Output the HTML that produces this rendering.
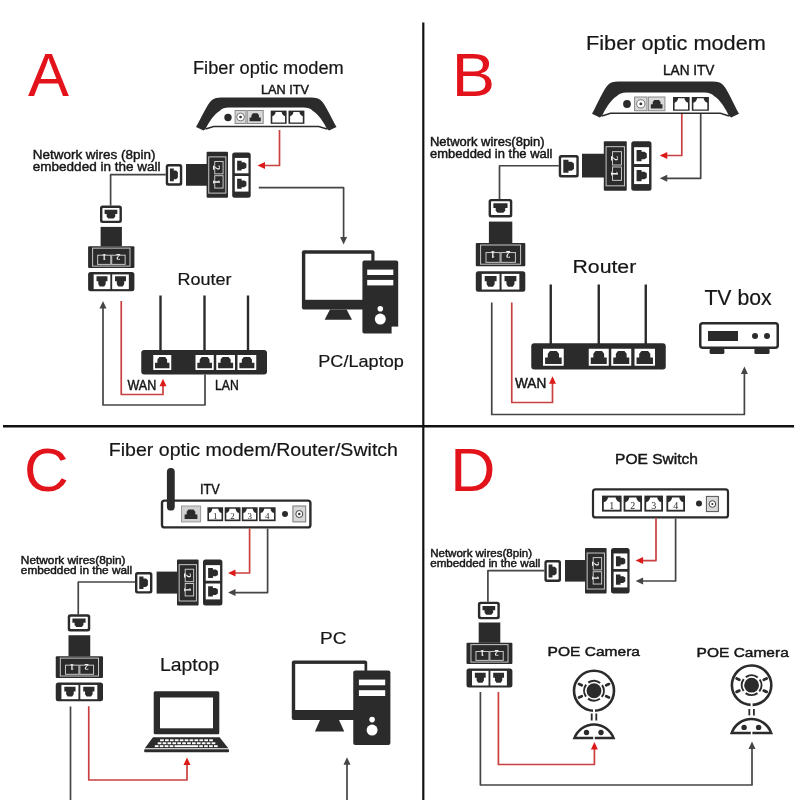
<!DOCTYPE html>
<html><head><meta charset="utf-8"><style>
html,body{margin:0;padding:0;background:#fff;width:800px;height:800px;overflow:hidden}
svg{display:block;will-change:transform;filter:blur(0.3px);font-family:"Liberation Sans",sans-serif}
</style></head><body>
<svg width="800" height="800" viewBox="0 0 800 800" font-family="Liberation Sans, sans-serif">
<rect width="800" height="800" fill="#fff"/>
<polyline points="423.3,22.5 423.3,800" fill="none" stroke="#111" stroke-width="2.2" stroke-linejoin="round"/>
<polyline points="3,426.25 794,426.25" fill="none" stroke="#111" stroke-width="2.4" stroke-linejoin="round"/>
<text x="28" y="96.25" font-size="61.68" fill="#e3131b" font-weight="normal" textLength="41" lengthAdjust="spacingAndGlyphs">A</text>
<text x="193" y="74.25" font-size="17.78" fill="#161616" font-weight="normal" textLength="150.75" lengthAdjust="spacingAndGlyphs" stroke="#161616" stroke-width="0.2">Fiber optic modem</text>
<text x="261" y="94" font-size="13.06" fill="#161616" font-weight="normal" textLength="48" lengthAdjust="spacingAndGlyphs" stroke="#161616" stroke-width="0.45">LAN ITV</text>
<path d="M196,127 C201.62,117.3 207.24,104.1 211.46,100.47 Q214.26,97.5 221.29,97.5 L311.21,97.5 Q318.24,97.5 321.05,100.47 C325.26,104.1 330.88,117.3 336.5,127 L329.05,130.5 L326.95,129.01 C323.86,122.25 318.24,114 312.62,110.7 Q309.81,107.5 303.48,107.5 L229.02,107.5 Q222.69,107.5 219.88,110.7 C214.26,114 208.65,122.25 205.55,129.01 L203.45,130.5 Z" fill="#2b2b2b"/>
<path d="M205.55,129.01 L213.7,126.54 L318.8,126.54 L326.95,129.01" fill="none" stroke="#2b2b2b" stroke-width="1.4"/>
<circle cx="228" cy="117.5" r="3.7" fill="#2b2b2b"/>
<rect x="235.1" y="110.5" width="10.9" height="13" fill="#d8d8d8" stroke="#8a8a8a" stroke-width="1"/>
<circle cx="240.55" cy="117" r="3.9" fill="#fff" stroke="#777" stroke-width="1"/>
<circle cx="240.55" cy="117" r="1.36" fill="#333"/>
<rect x="247.2" y="110.5" width="16" height="13" fill="#d8d8d8" stroke="#8a8a8a" stroke-width="1"/>
<polygon points="249.6,121.34 260.8,121.34 260.8,117.46 258.98,117.46 258.98,115.15 257.44,113.36 252.96,113.36 251.42,115.15 251.42,117.46 249.6,117.46" fill="#2b2b2b"/>
<rect x="270.7" y="110.6" width="15.9" height="13.2" fill="#2b2b2b"/>
<polygon points="272.3,122.5 285,122.5 285,116.14 283.22,115.29 281.95,113.38 281.7,111.9 275.6,111.9 275.35,113.38 274.08,115.29 272.3,116.14" fill="#fff"/>
<rect x="288.5" y="110.6" width="15.9" height="13.2" fill="#2b2b2b"/>
<polygon points="290.1,122.5 302.8,122.5 302.8,116.14 301.02,115.29 299.75,113.38 299.5,111.9 293.4,111.9 293.15,113.38 291.88,115.29 290.1,116.14" fill="#fff"/>
<text x="32.75" y="158.75" font-size="13.5" fill="#161616" font-weight="normal" textLength="122.65" lengthAdjust="spacingAndGlyphs" stroke="#161616" stroke-width="0.45">Network wires (8pin)</text>
<text x="32.75" y="170.6" font-size="13.5" fill="#161616" font-weight="normal" textLength="127.85" lengthAdjust="spacingAndGlyphs" stroke="#161616" stroke-width="0.45">embedded in the wall</text>
<polyline points="165.75,174.7 110.6,174.7 110.6,205.6" fill="none" stroke="#454545" stroke-width="1.7" stroke-linejoin="round"/>
<rect x="165.75" y="164" width="16.5" height="21.75" rx="2.5" fill="#2b2b2b"/>
<rect x="168.15" y="166.4" width="11.7" height="16.95" rx="0.8" fill="#fff"/>
<polygon points="169.91,168.57 169.91,181.18 173.79,181.18 173.79,179.13 176.1,179.13 177.88,177.4 177.88,172.35 176.1,170.62 173.79,170.62 173.79,168.57" fill="#2b2b2b"/>
<rect x="186" y="164" width="21" height="21.75" fill="#2b2b2b"/>
<rect x="206.6" y="151.85" width="21.4" height="45.85" rx="1" fill="#2b2b2b"/>
<rect x="208.74" y="156.89" width="17.12" height="36.22" fill="none" stroke="#c8c8c8" stroke-width="1"/>
<rect x="214.73" y="161.48" width="8.35" height="12.38" fill="none" stroke="#c8c8c8" stroke-width="1"/>
<text x="0" y="0" font-size="9.63" fill="#f2f2f2" font-weight="bold" text-anchor="middle" transform="translate(216.44,167.67) rotate(90)" dy="0.35em" font-family="Liberation Serif, serif">2</text>
<rect x="214.73" y="175.69" width="8.35" height="12.38" fill="none" stroke="#c8c8c8" stroke-width="1"/>
<text x="0" y="0" font-size="9.63" fill="#f2f2f2" font-weight="bold" text-anchor="middle" transform="translate(216.44,181.88) rotate(90)" dy="0.35em" font-family="Liberation Serif, serif">1</text>
<rect x="232.2" y="152.5" width="18.5" height="45.2" rx="2.5" fill="#2b2b2b"/>
<rect x="234.79" y="157.92" width="13.69" height="15.37" fill="#fff"/>
<polygon points="237.13,160.66 237.13,170.56 241.64,170.56 241.64,168.95 244.32,168.95 246.4,167.59 246.4,163.63 244.32,162.27 241.64,162.27 241.64,160.66" fill="#2b2b2b"/>
<rect x="234.79" y="176" width="13.69" height="15.59" fill="#fff"/>
<polygon points="237.13,178.76 237.13,188.84 241.64,188.84 241.64,187.2 244.32,187.2 246.4,185.82 246.4,181.79 244.32,180.4 241.64,180.4 241.64,178.76" fill="#2b2b2b"/>
<polyline points="279.5,130 279.5,165.5 263,165.5" fill="none" stroke="#c94040" stroke-width="1.7" stroke-linejoin="round"/>
<polygon points="257.5,165.5 265,162 265,169" fill="#dd1a1a"/>
<polyline points="258.75,187.7 343.6,187.7 343.6,238" fill="none" stroke="#454545" stroke-width="1.7" stroke-linejoin="round"/>
<polygon points="343.6,244.5 340.1,237 347.1,237" fill="#454545"/>
<rect x="100" y="205.6" width="21.9" height="17.5" rx="2.5" fill="#2b2b2b"/>
<rect x="102.4" y="208" width="17.1" height="12.7" rx="0.8" fill="#fff"/>
<polygon points="104.59,209.86 117.31,209.86 117.31,214.12 115.24,214.12 115.24,216.65 113.49,218.6 108.41,218.6 106.66,216.65 106.66,214.12 104.59,214.12" fill="#2b2b2b"/>
<rect x="100.6" y="226.9" width="21.3" height="19.35" fill="#2b2b2b"/>
<rect x="88.1" y="246.25" width="46.3" height="21.85" rx="1" fill="#2b2b2b"/>
<rect x="92.59" y="248.13" width="37.41" height="18" fill="none" stroke="#c8c8c8" stroke-width="1"/>
<rect x="97.64" y="255.21" width="13.15" height="9.18" fill="none" stroke="#c8c8c8" stroke-width="1"/>
<text x="0" y="0" font-size="8.74" fill="#f0f0f0" font-weight="bold" text-anchor="middle" transform="translate(104.21,257.18) rotate(180)" dy="0.35em" font-family="Liberation Serif, serif">1</text>
<rect x="111.71" y="255.21" width="13.43" height="9.18" fill="none" stroke="#c8c8c8" stroke-width="1"/>
<text x="0" y="0" font-size="8.74" fill="#f0f0f0" font-weight="bold" text-anchor="middle" transform="translate(118.43,257.18) rotate(180)" dy="0.35em" font-family="Liberation Serif, serif">2</text>
<rect x="88.1" y="271.9" width="46.3" height="19.35" rx="2.5" fill="#2b2b2b"/>
<rect x="93.66" y="274.42" width="16.67" height="14.71" fill="#fff"/>
<polygon points="96.52,276.37 107.46,276.37 107.46,281.25 105.68,281.25 105.68,284.16 104.18,286.4 99.8,286.4 98.3,284.16 98.3,281.25 96.52,281.25" fill="#2b2b2b"/>
<rect x="112.18" y="274.42" width="16.67" height="14.71" fill="#fff"/>
<polygon points="115.04,276.37 125.98,276.37 125.98,281.25 124.2,281.25 124.2,284.16 122.7,286.4 118.32,286.4 116.82,284.16 116.82,281.25 115.04,281.25" fill="#2b2b2b"/>
<rect x="301.9" y="250.3" width="72.6" height="59.2" rx="2" fill="#2b2b2b"/>
<rect x="305.3" y="253.75" width="66" height="46.05" fill="#fff"/>
<polygon points="330,309.5 346.6,309.5 352,319.8 324.6,319.8" fill="#2b2b2b"/>
<rect x="362.4" y="260.6" width="35.8" height="72.9" rx="2" fill="#2b2b2b"/>
<rect x="367.2" y="269.6" width="26.1" height="5.4" fill="#fff"/>
<rect x="367.2" y="279.9" width="26.1" height="5.5" fill="#fff"/>
<circle cx="380.3" cy="308.8" r="2.8" fill="#fff"/>
<circle cx="380.3" cy="319.1" r="5.5" fill="#fff"/>
<rect x="391.6" y="326.6" width="8.4" height="8.4" fill="#fff"/>
<text x="177.4" y="285" font-size="17.42" fill="#161616" font-weight="normal" textLength="54" lengthAdjust="spacingAndGlyphs" stroke="#161616" stroke-width="0.2">Router</text>
<text x="318.3" y="367.2" font-size="16.98" fill="#161616" font-weight="normal" textLength="85.5" lengthAdjust="spacingAndGlyphs" stroke="#161616" stroke-width="0.2">PC/Laptop</text>
<polyline points="160.5,295.5 160.5,351" fill="none" stroke="#2b2b2b" stroke-width="2.4" stroke-linejoin="round"/>
<polyline points="204.5,295.5 204.5,351" fill="none" stroke="#2b2b2b" stroke-width="2.4" stroke-linejoin="round"/>
<polyline points="248,295.5 248,351" fill="none" stroke="#2b2b2b" stroke-width="2.4" stroke-linejoin="round"/>
<rect x="141.25" y="350" width="125.75" height="24.5" rx="3" fill="#2b2b2b"/>
<rect x="153.25" y="355" width="18" height="15" fill="#fff"/>
<polygon points="155.05,368.35 169.45,368.35 169.45,362.8 167.11,362.8 167.11,359.5 165.13,356.95 159.37,356.95 157.39,359.5 157.39,362.8 155.05,362.8" fill="#2b2b2b"/>
<rect x="195.5" y="355" width="18.25" height="15" fill="#fff"/>
<polygon points="197.32,368.35 211.93,368.35 211.93,362.8 209.55,362.8 209.55,359.5 207.54,356.95 201.71,356.95 199.7,359.5 199.7,362.8 197.32,362.8" fill="#2b2b2b"/>
<rect x="216.25" y="355" width="18.75" height="15" fill="#fff"/>
<polygon points="218.12,368.35 233.12,368.35 233.12,362.8 230.69,362.8 230.69,359.5 228.62,356.95 222.62,356.95 220.56,359.5 220.56,362.8 218.12,362.8" fill="#2b2b2b"/>
<rect x="237.5" y="355" width="18.75" height="15" fill="#fff"/>
<polygon points="239.38,368.35 254.38,368.35 254.38,362.8 251.94,362.8 251.94,359.5 249.88,356.95 243.88,356.95 241.81,359.5 241.81,362.8 239.38,362.8" fill="#2b2b2b"/>
<polyline points="103,307 103,405 205,405 205,374.5" fill="none" stroke="#454545" stroke-width="1.7" stroke-linejoin="round"/>
<polygon points="103,301 99.5,308.5 106.5,308.5" fill="#454545"/>
<polyline points="121.25,301 121.25,394.5 163,394.5 163,385" fill="none" stroke="#c94040" stroke-width="1.7" stroke-linejoin="round"/>
<polygon points="163,378.75 159.5,386.25 166.5,386.25" fill="#dd1a1a"/>
<text x="127.5" y="390" font-size="14.51" fill="#161616" font-weight="normal" textLength="28.75" lengthAdjust="spacingAndGlyphs" stroke="#161616" stroke-width="0.45">WAN</text>
<text x="215" y="390" font-size="14.51" fill="#161616" font-weight="normal" textLength="23.75" lengthAdjust="spacingAndGlyphs" stroke="#161616" stroke-width="0.45">LAN</text>
<text x="451.7" y="96.25" font-size="61.68" fill="#e3131b" font-weight="normal" textLength="43.4" lengthAdjust="spacingAndGlyphs">B</text>
<text x="586" y="49.7" font-size="19.88" fill="#161616" font-weight="normal" textLength="179.8" lengthAdjust="spacingAndGlyphs" stroke="#161616" stroke-width="0.2">Fiber optic modem</text>
<text x="663" y="74.5" font-size="14.51" fill="#161616" font-weight="normal" textLength="51.4" lengthAdjust="spacingAndGlyphs" stroke="#161616" stroke-width="0.45">LAN ITV</text>
<path d="M592,113.77 C597.88,103.16 603.76,88.72 608.17,84.75 Q611.11,81.5 618.46,81.5 L712.54,81.5 Q719.89,81.5 722.83,84.75 C727.24,88.72 733.12,103.16 739,113.77 L731.21,117.6 L729,115.98 C725.77,108.57 719.89,99.55 714.01,95.94 Q711.07,92.44 704.46,92.44 L626.54,92.44 Q619.93,92.44 616.99,95.94 C611.11,99.55 605.23,108.57 602,115.98 L599.79,117.6 Z" fill="#2b2b2b"/>
<path d="M602,115.98 L610.52,113.27 L720.48,113.27 L729,115.98" fill="none" stroke="#2b2b2b" stroke-width="1.4"/>
<circle cx="627" cy="104" r="3.9" fill="#2b2b2b"/>
<rect x="634.6" y="97" width="12.4" height="13.75" fill="#d8d8d8" stroke="#8a8a8a" stroke-width="1"/>
<circle cx="640.8" cy="103.88" r="4.12" fill="#fff" stroke="#777" stroke-width="1"/>
<circle cx="640.8" cy="103.88" r="1.44" fill="#333"/>
<rect x="648.4" y="97" width="16.5" height="13.75" fill="#d8d8d8" stroke="#8a8a8a" stroke-width="1"/>
<polygon points="650.85,108.51 662.45,108.51 662.45,104.35 660.56,104.35 660.56,101.88 658.97,99.96 654.33,99.96 652.74,101.88 652.74,104.35 650.85,104.35" fill="#2b2b2b"/>
<rect x="673" y="97" width="16.6" height="13.75" fill="#2b2b2b"/>
<polygon points="674.6,109.45 688,109.45 688,102.76 686.12,101.87 684.78,99.86 684.52,98.3 678.08,98.3 677.82,99.86 676.48,101.87 674.6,102.76" fill="#fff"/>
<rect x="691.8" y="97" width="17.1" height="13.75" fill="#2b2b2b"/>
<polygon points="693.4,109.45 707.3,109.45 707.3,102.76 705.35,101.87 703.96,99.86 703.69,98.3 697.01,98.3 696.74,99.86 695.35,101.87 693.4,102.76" fill="#fff"/>
<text x="430" y="146.25" font-size="12.05" fill="#161616" font-weight="normal" textLength="114.5" lengthAdjust="spacingAndGlyphs" stroke="#161616" stroke-width="0.45">Network wires(8pin)</text>
<text x="430" y="157.5" font-size="12.05" fill="#161616" font-weight="normal" textLength="122.5" lengthAdjust="spacingAndGlyphs" stroke="#161616" stroke-width="0.45">embedded in the wall</text>
<polyline points="558.75,165.75 499.5,165.75 499.5,198.9" fill="none" stroke="#454545" stroke-width="1.7" stroke-linejoin="round"/>
<rect x="558.75" y="155" width="20" height="22.5" rx="2.5" fill="#2b2b2b"/>
<rect x="561.15" y="157.4" width="15.2" height="17.7" rx="0.8" fill="#fff"/>
<polygon points="563.29,159.65 563.29,172.85 568.47,172.85 568.47,170.71 571.55,170.71 573.93,168.89 573.93,163.61 571.55,161.79 568.47,161.79 568.47,159.65" fill="#2b2b2b"/>
<rect x="582" y="153.75" width="23" height="23.75" fill="#2b2b2b"/>
<rect x="603.8" y="141.25" width="22.95" height="49.5" rx="1" fill="#2b2b2b"/>
<rect x="606.09" y="146.69" width="18.36" height="39.11" fill="none" stroke="#c8c8c8" stroke-width="1"/>
<rect x="612.52" y="151.65" width="8.95" height="13.36" fill="none" stroke="#c8c8c8" stroke-width="1"/>
<text x="0" y="0" font-size="10.33" fill="#f2f2f2" font-weight="bold" text-anchor="middle" transform="translate(614.36,158.33) rotate(90)" dy="0.35em" font-family="Liberation Serif, serif">2</text>
<rect x="612.52" y="166.99" width="8.95" height="13.37" fill="none" stroke="#c8c8c8" stroke-width="1"/>
<text x="0" y="0" font-size="10.33" fill="#f2f2f2" font-weight="bold" text-anchor="middle" transform="translate(614.36,173.67) rotate(90)" dy="0.35em" font-family="Liberation Serif, serif">1</text>
<rect x="631.25" y="141.25" width="20.25" height="49.5" rx="2.5" fill="#2b2b2b"/>
<rect x="634.09" y="147.19" width="14.99" height="16.83" fill="#fff"/>
<polygon points="636.57,150.07 636.57,161.14 641.56,161.14 641.56,159.34 644.52,159.34 646.82,157.82 646.82,153.39 644.52,151.87 641.56,151.87 641.56,150.07" fill="#2b2b2b"/>
<rect x="634.09" y="166.99" width="14.99" height="17.08" fill="#fff"/>
<polygon points="636.57,169.9 636.57,181.16 641.56,181.16 641.56,179.33 644.52,179.33 646.82,177.78 646.82,173.28 644.52,171.73 641.56,171.73 641.56,169.9" fill="#2b2b2b"/>
<polyline points="681.8,114 681.8,155.5 665,155.5" fill="none" stroke="#c94040" stroke-width="1.7" stroke-linejoin="round"/>
<polygon points="659.75,155.5 667.25,152 667.25,159" fill="#dd1a1a"/>
<polyline points="700.7,114 700.7,178.3 665,178.3" fill="none" stroke="#454545" stroke-width="1.7" stroke-linejoin="round"/>
<polygon points="659.75,178.3 667.25,174.8 667.25,181.8" fill="#454545"/>
<rect x="488.6" y="198.9" width="23.7" height="18.6" rx="2.5" fill="#2b2b2b"/>
<rect x="491" y="201.3" width="18.9" height="13.8" rx="0.8" fill="#fff"/>
<polygon points="493.37,203.29 507.53,203.29 507.53,207.95 505.23,207.95 505.23,210.72 503.28,212.86 497.62,212.86 495.67,210.72 495.67,207.95 493.37,207.95" fill="#2b2b2b"/>
<rect x="488.9" y="221.6" width="23.4" height="21.4" fill="#2b2b2b"/>
<rect x="475.8" y="243" width="49.5" height="23.3" rx="1" fill="#2b2b2b"/>
<rect x="480.6" y="245" width="40" height="19.2" fill="none" stroke="#c8c8c8" stroke-width="1"/>
<rect x="486" y="252.55" width="14.06" height="9.79" fill="none" stroke="#c8c8c8" stroke-width="1"/>
<text x="0" y="0" font-size="9.32" fill="#f0f0f0" font-weight="bold" text-anchor="middle" transform="translate(493.03,254.65) rotate(180)" dy="0.35em" font-family="Liberation Serif, serif">1</text>
<rect x="501.04" y="252.55" width="14.36" height="9.79" fill="none" stroke="#c8c8c8" stroke-width="1"/>
<text x="0" y="0" font-size="9.32" fill="#f0f0f0" font-weight="bold" text-anchor="middle" transform="translate(508.22,254.65) rotate(180)" dy="0.35em" font-family="Liberation Serif, serif">2</text>
<rect x="475.8" y="271.2" width="49.5" height="20.6" rx="2.5" fill="#2b2b2b"/>
<rect x="481.74" y="273.88" width="17.82" height="15.66" fill="#fff"/>
<polygon points="484.72,275.94 496.58,275.94 496.58,281.17 494.65,281.17 494.65,284.29 493.02,286.69 488.28,286.69 486.65,284.29 486.65,281.17 484.72,281.17" fill="#2b2b2b"/>
<rect x="501.54" y="273.88" width="17.82" height="15.66" fill="#fff"/>
<polygon points="504.52,275.94 516.38,275.94 516.38,281.17 514.45,281.17 514.45,284.29 512.82,286.69 508.08,286.69 506.45,284.29 506.45,281.17 504.52,281.17" fill="#2b2b2b"/>
<text x="572.5" y="272.5" font-size="18.87" fill="#161616" font-weight="normal" textLength="63.75" lengthAdjust="spacingAndGlyphs" stroke="#161616" stroke-width="0.2">Router</text>
<polyline points="550.75,284.5 550.75,344.25" fill="none" stroke="#2b2b2b" stroke-width="2.4" stroke-linejoin="round"/>
<polyline points="598.75,284.5 598.75,344.25" fill="none" stroke="#2b2b2b" stroke-width="2.4" stroke-linejoin="round"/>
<polyline points="645.75,284.5 645.75,344.25" fill="none" stroke="#2b2b2b" stroke-width="2.4" stroke-linejoin="round"/>
<rect x="531.25" y="343.25" width="134.5" height="26.25" rx="3" fill="#2b2b2b"/>
<rect x="543" y="348.75" width="20.75" height="17" fill="#fff"/>
<polygon points="545.08,363.88 561.67,363.88 561.67,357.59 558.98,357.59 558.98,353.85 556.7,350.96 550.05,350.96 547.77,353.85 547.77,357.59 545.08,357.59" fill="#2b2b2b"/>
<rect x="588.75" y="348.75" width="20" height="17" fill="#fff"/>
<polygon points="590.75,363.88 606.75,363.88 606.75,357.59 604.15,357.59 604.15,353.85 601.95,350.96 595.55,350.96 593.35,353.85 593.35,357.59 590.75,357.59" fill="#2b2b2b"/>
<rect x="611.25" y="348.75" width="20" height="17" fill="#fff"/>
<polygon points="613.25,363.88 629.25,363.88 629.25,357.59 626.65,357.59 626.65,353.85 624.45,350.96 618.05,350.96 615.85,353.85 615.85,357.59 613.25,357.59" fill="#2b2b2b"/>
<rect x="634.5" y="348.75" width="20.5" height="17" fill="#fff"/>
<polygon points="636.55,363.88 652.95,363.88 652.95,357.59 650.28,357.59 650.28,353.85 648.03,350.96 641.47,350.96 639.22,353.85 639.22,357.59 636.55,357.59" fill="#2b2b2b"/>
<polyline points="491.75,302.5 491.75,414.5 744.4,414.5 744.4,372" fill="none" stroke="#454545" stroke-width="1.7" stroke-linejoin="round"/>
<polygon points="744.4,366.4 740.9,373.9 747.9,373.9" fill="#454545"/>
<polyline points="511.75,302.5 511.75,402.5 552.5,402.5 552.5,382" fill="none" stroke="#c94040" stroke-width="1.7" stroke-linejoin="round"/>
<polygon points="552.5,376.25 549,383.75 556,383.75" fill="#dd1a1a"/>
<text x="515" y="388.25" font-size="13.79" fill="#161616" font-weight="normal" textLength="31.25" lengthAdjust="spacingAndGlyphs" stroke="#161616" stroke-width="0.45">WAN</text>
<text x="704.4" y="304.6" font-size="21.19" fill="#161616" font-weight="normal" textLength="67.2" lengthAdjust="spacingAndGlyphs" stroke="#161616" stroke-width="0.2">TV box</text>
<rect x="700.25" y="323.25" width="77.5" height="24.5" rx="2.5" fill="#fff" stroke="#2b2b2b" stroke-width="2.5"/>
<rect x="708" y="331" width="30" height="10" fill="#2b2b2b"/>
<circle cx="755" cy="336" r="3" fill="#2b2b2b"/>
<circle cx="767" cy="336" r="3" fill="#2b2b2b"/>
<rect x="709.6" y="348.5" width="14.8" height="5.5" rx="1.5" fill="#2b2b2b"/>
<rect x="754.4" y="348.5" width="15.2" height="5.5" rx="1.5" fill="#2b2b2b"/>
<text x="24.05" y="491.1" font-size="61.68" fill="#e3131b" font-weight="normal" textLength="44.8" lengthAdjust="spacingAndGlyphs">C</text>
<text x="108.75" y="456.25" font-size="18.14" fill="#161616" font-weight="normal" textLength="289.25" lengthAdjust="spacingAndGlyphs" stroke="#161616" stroke-width="0.2">Fiber optic modem/Router/Switch</text>
<text x="200" y="494.2" font-size="13.79" fill="#161616" font-weight="normal" textLength="19.75" lengthAdjust="spacingAndGlyphs" stroke="#161616" stroke-width="0.45">ITV</text>
<rect x="162" y="500.6" width="148.4" height="26.8" rx="2.5" fill="#fff" stroke="#2b2b2b" stroke-width="2.4"/>
<rect x="166.9" y="467.9" width="7.85" height="42.7" rx="3.9" fill="#2b2b2b"/>
<rect x="181.5" y="506" width="19.1" height="15.9" fill="#d0d0d0" stroke="#999" stroke-width="1"/>
<polygon points="184.6,519.12 197.4,519.12 197.4,514.5 195.32,514.5 195.32,511.75 193.56,509.62 188.44,509.62 186.68,511.75 186.68,514.5 184.6,514.5" fill="#2b2b2b"/>
<rect x="207.4" y="507.25" width="15.7" height="13.95" fill="#2b2b2b"/>
<polygon points="209,519.5 221.5,519.5 221.5,513.02 219.75,512.16 218.5,510.21 218.25,508.7 212.25,508.7 212,510.21 210.75,512.16 209,513.02" fill="#fff"/>
<text x="215.25" y="518.8" font-size="9" fill="#2a2a2a" text-anchor="middle" font-family="Liberation Serif, serif">1</text>
<rect x="224.7" y="507.25" width="15.8" height="13.95" fill="#2b2b2b"/>
<polygon points="226.3,519.5 238.9,519.5 238.9,513.02 237.14,512.16 235.88,510.21 235.62,508.7 229.58,508.7 229.32,510.21 228.06,512.16 226.3,513.02" fill="#fff"/>
<text x="232.6" y="518.8" font-size="9" fill="#2a2a2a" text-anchor="middle" font-family="Liberation Serif, serif">2</text>
<rect x="241.8" y="507.25" width="15.8" height="13.95" fill="#2b2b2b"/>
<polygon points="243.4,519.5 256,519.5 256,513.02 254.24,512.16 252.98,510.21 252.72,508.7 246.68,508.7 246.42,510.21 245.16,512.16 243.4,513.02" fill="#fff"/>
<text x="249.7" y="518.8" font-size="9" fill="#2a2a2a" text-anchor="middle" font-family="Liberation Serif, serif">3</text>
<rect x="259.1" y="507.25" width="16.5" height="13.95" fill="#2b2b2b"/>
<polygon points="260.7,519.5 274,519.5 274,513.02 272.14,512.16 270.81,510.21 270.54,508.7 264.16,508.7 263.89,510.21 262.56,512.16 260.7,513.02" fill="#fff"/>
<text x="267.35" y="518.8" font-size="9" fill="#2a2a2a" text-anchor="middle" font-family="Liberation Serif, serif">4</text>
<circle cx="285" cy="514" r="3" fill="#2b2b2b"/>
<rect x="292.9" y="506" width="12.8" height="15.9" fill="#d8d8d8" stroke="#777" stroke-width="1"/>
<circle cx="299.3" cy="514" r="3.5" fill="#fff" stroke="#444" stroke-width="1"/>
<circle cx="299.3" cy="514" r="1.2" fill="#333"/>
<text x="20.85" y="563.6" font-size="10.89" fill="#161616" font-weight="normal" textLength="104.65" lengthAdjust="spacingAndGlyphs" stroke="#161616" stroke-width="0.45">Network wires(8pin)</text>
<text x="20.85" y="574.1" font-size="10.89" fill="#161616" font-weight="normal" textLength="111.35" lengthAdjust="spacingAndGlyphs" stroke="#161616" stroke-width="0.45">embedded in the wall</text>
<polyline points="135,582 78.25,582 78.25,614.25" fill="none" stroke="#454545" stroke-width="1.7" stroke-linejoin="round"/>
<rect x="135" y="572" width="17.4" height="21.6" rx="2.5" fill="#2b2b2b"/>
<rect x="137.4" y="574.4" width="12.6" height="16.8" rx="0.8" fill="#fff"/>
<polygon points="139.25,576.56 139.25,589.04 143.47,589.04 143.47,587.01 145.98,587.01 147.92,585.3 147.92,580.3 145.98,578.59 143.47,578.59 143.47,576.56" fill="#2b2b2b"/>
<rect x="156.6" y="571.6" width="21.4" height="22" fill="#2b2b2b"/>
<rect x="177" y="559.6" width="21.6" height="46" rx="1" fill="#2b2b2b"/>
<rect x="179.16" y="564.66" width="17.28" height="36.34" fill="none" stroke="#c8c8c8" stroke-width="1"/>
<rect x="185.21" y="569.26" width="8.42" height="12.42" fill="none" stroke="#c8c8c8" stroke-width="1"/>
<text x="0" y="0" font-size="9.72" fill="#f2f2f2" font-weight="bold" text-anchor="middle" transform="translate(186.94,575.47) rotate(90)" dy="0.35em" font-family="Liberation Serif, serif">2</text>
<rect x="185.21" y="583.52" width="8.42" height="12.42" fill="none" stroke="#c8c8c8" stroke-width="1"/>
<text x="0" y="0" font-size="9.72" fill="#f2f2f2" font-weight="bold" text-anchor="middle" transform="translate(186.94,589.73) rotate(90)" dy="0.35em" font-family="Liberation Serif, serif">1</text>
<rect x="203" y="559.6" width="19.4" height="46" rx="2.5" fill="#2b2b2b"/>
<rect x="205.72" y="565.12" width="14.36" height="15.64" fill="#fff"/>
<polygon points="208.13,567.88 208.13,578 212.89,578 212.89,576.35 215.72,576.35 217.9,574.96 217.9,570.92 215.72,569.53 212.89,569.53 212.89,567.88" fill="#2b2b2b"/>
<rect x="205.72" y="583.52" width="14.36" height="15.87" fill="#fff"/>
<polygon points="208.13,586.31 208.13,596.6 212.89,596.6 212.89,594.93 215.72,594.93 217.9,593.51 217.9,589.4 215.72,587.98 212.89,587.98 212.89,586.31" fill="#2b2b2b"/>
<polyline points="249.6,528.6 249.6,573 234,573" fill="none" stroke="#c94040" stroke-width="1.7" stroke-linejoin="round"/>
<polygon points="228,573 235.5,569.5 235.5,576.5" fill="#dd1a1a"/>
<polyline points="267.6,528.6 267.6,592.6 234,592.6" fill="none" stroke="#454545" stroke-width="1.7" stroke-linejoin="round"/>
<polygon points="228,592.6 235.5,589.1 235.5,596.1" fill="#454545"/>
<rect x="67.75" y="614.25" width="22.5" height="17.25" rx="2.5" fill="#2b2b2b"/>
<rect x="70.15" y="616.65" width="17.7" height="12.45" rx="0.8" fill="#fff"/>
<polygon points="72.4,618.49 85.6,618.49 85.6,622.65 83.45,622.65 83.45,625.12 81.64,627.04 76.36,627.04 74.55,625.12 74.55,622.65 72.4,622.65" fill="#2b2b2b"/>
<rect x="68.5" y="635.25" width="21.75" height="21" fill="#2b2b2b"/>
<rect x="55.75" y="656.25" width="47.25" height="21.75" rx="1" fill="#2b2b2b"/>
<rect x="60.33" y="658.12" width="38.18" height="17.92" fill="none" stroke="#c8c8c8" stroke-width="1"/>
<rect x="65.48" y="665.17" width="13.42" height="9.13" fill="none" stroke="#c8c8c8" stroke-width="1"/>
<text x="0" y="0" font-size="8.7" fill="#f0f0f0" font-weight="bold" text-anchor="middle" transform="translate(72.19,667.12) rotate(180)" dy="0.35em" font-family="Liberation Serif, serif">1</text>
<rect x="79.85" y="665.17" width="13.7" height="9.13" fill="none" stroke="#c8c8c8" stroke-width="1"/>
<text x="0" y="0" font-size="8.7" fill="#f0f0f0" font-weight="bold" text-anchor="middle" transform="translate(86.7,667.12) rotate(180)" dy="0.35em" font-family="Liberation Serif, serif">2</text>
<rect x="55.75" y="682.5" width="47.25" height="18.75" rx="2.5" fill="#2b2b2b"/>
<rect x="61.42" y="684.94" width="17.01" height="14.25" fill="#fff"/>
<polygon points="64.32,686.84 75.53,686.84 75.53,691.56 73.71,691.56 73.71,694.36 72.17,696.53 67.68,696.53 66.14,694.36 66.14,691.56 64.32,691.56" fill="#2b2b2b"/>
<rect x="80.32" y="684.94" width="17.01" height="14.25" fill="#fff"/>
<polygon points="83.22,686.84 94.43,686.84 94.43,691.56 92.61,691.56 92.61,694.36 91.07,696.53 86.58,696.53 85.04,694.36 85.04,691.56 83.22,691.56" fill="#2b2b2b"/>
<text x="160" y="670.75" font-size="18.51" fill="#161616" font-weight="normal" textLength="59.25" lengthAdjust="spacingAndGlyphs" stroke="#161616" stroke-width="0.2">Laptop</text>
<text x="320" y="644.3" font-size="17.42" fill="#161616" font-weight="normal" textLength="26.5" lengthAdjust="spacingAndGlyphs" stroke="#161616" stroke-width="0.2">PC</text>
<rect x="153.7" y="691.2" width="65.6" height="43.1" rx="1.5" fill="#2b2b2b"/>
<rect x="160" y="697.5" width="53" height="30.8" fill="#fff"/>
<polygon points="153,737.3 219.6,737.3 228.3,748.2 144.8,748.2" fill="#2b2b2b"/>
<rect x="144.2" y="749.2" width="84.8" height="3" rx="0.8" fill="#2b2b2b"/>
<rect x="160.1" y="739.3" width="3.71" height="1.9" fill="#fff"/>
<rect x="165.01" y="739.3" width="3.71" height="1.9" fill="#fff"/>
<rect x="169.92" y="739.3" width="3.71" height="1.9" fill="#fff"/>
<rect x="174.83" y="739.3" width="3.71" height="1.9" fill="#fff"/>
<rect x="179.74" y="739.3" width="3.71" height="1.9" fill="#fff"/>
<rect x="184.65" y="739.3" width="3.71" height="1.9" fill="#fff"/>
<rect x="189.55" y="739.3" width="3.71" height="1.9" fill="#fff"/>
<rect x="194.46" y="739.3" width="3.71" height="1.9" fill="#fff"/>
<rect x="199.37" y="739.3" width="3.71" height="1.9" fill="#fff"/>
<rect x="204.28" y="739.3" width="3.71" height="1.9" fill="#fff"/>
<rect x="209.19" y="739.3" width="3.71" height="1.9" fill="#fff"/>
<rect x="157.7" y="742.3" width="3.7" height="1.9" fill="#fff"/>
<rect x="162.6" y="742.3" width="3.7" height="1.9" fill="#fff"/>
<rect x="167.5" y="742.3" width="3.7" height="1.9" fill="#fff"/>
<rect x="172.4" y="742.3" width="3.7" height="1.9" fill="#fff"/>
<rect x="177.3" y="742.3" width="3.7" height="1.9" fill="#fff"/>
<rect x="182.2" y="742.3" width="3.7" height="1.9" fill="#fff"/>
<rect x="187.1" y="742.3" width="3.7" height="1.9" fill="#fff"/>
<rect x="192" y="742.3" width="3.7" height="1.9" fill="#fff"/>
<rect x="196.9" y="742.3" width="3.7" height="1.9" fill="#fff"/>
<rect x="201.8" y="742.3" width="3.7" height="1.9" fill="#fff"/>
<rect x="206.7" y="742.3" width="3.7" height="1.9" fill="#fff"/>
<rect x="211.6" y="742.3" width="3.7" height="1.9" fill="#fff"/>
<rect x="154.8" y="745.2" width="3.73" height="1.9" fill="#fff"/>
<rect x="159.73" y="745.2" width="3.73" height="1.9" fill="#fff"/>
<rect x="164.66" y="745.2" width="3.73" height="1.9" fill="#fff"/>
<rect x="169.59" y="745.2" width="3.73" height="1.9" fill="#fff"/>
<rect x="174.52" y="745.2" width="23.65" height="1.9" fill="#fff"/>
<rect x="199.18" y="745.2" width="3.73" height="1.9" fill="#fff"/>
<rect x="204.11" y="745.2" width="3.73" height="1.9" fill="#fff"/>
<rect x="209.04" y="745.2" width="3.73" height="1.9" fill="#fff"/>
<rect x="213.97" y="745.2" width="3.73" height="1.9" fill="#fff"/>
<rect x="291.8" y="660.5" width="75.4" height="59.6" rx="2" fill="#2b2b2b"/>
<rect x="295.2" y="663.9" width="69.3" height="46.1" fill="#fff"/>
<polygon points="320,720 339,720 344.25,731.4 315,731.4" fill="#2b2b2b"/>
<rect x="353.25" y="670.6" width="37.15" height="74.3" rx="2" fill="#2b2b2b"/>
<rect x="358.9" y="679.6" width="26.3" height="5.65" fill="#fff"/>
<rect x="358.9" y="690.2" width="26.3" height="5.8" fill="#fff"/>
<circle cx="372.1" cy="719.6" r="2.8" fill="#fff"/>
<circle cx="372.1" cy="730.1" r="5.5" fill="#fff"/>
<polyline points="70.5,706.5 70.5,800" fill="none" stroke="#454545" stroke-width="1.7" stroke-linejoin="round"/>
<polyline points="88.75,706.25 88.75,780 187,780 187,763" fill="none" stroke="#c94040" stroke-width="1.7" stroke-linejoin="round"/>
<polygon points="187,757.5 183.5,765 190.5,765" fill="#dd1a1a"/>
<polyline points="347,800 347,763" fill="none" stroke="#454545" stroke-width="1.7" stroke-linejoin="round"/>
<polygon points="347,757.25 343.5,764.75 350.5,764.75" fill="#454545"/>
<text x="450.2" y="490.75" font-size="60.96" fill="#e3131b" font-weight="normal" textLength="45.2" lengthAdjust="spacingAndGlyphs">D</text>
<text x="615" y="464.4" font-size="15.09" fill="#161616" font-weight="normal" textLength="83" lengthAdjust="spacingAndGlyphs" stroke="#161616" stroke-width="0.45">POE Switch</text>
<rect x="593" y="489.4" width="135" height="28" rx="2.5" fill="#fff" stroke="#2b2b2b" stroke-width="2.2"/>
<rect x="602" y="495.6" width="19.6" height="16" fill="#2b2b2b"/>
<polygon points="603.8,509.7 619.8,509.7 619.8,502.32 617.56,501.34 615.96,499.12 615.64,497.4 607.96,497.4 607.64,499.12 606.04,501.34 603.8,502.32" fill="#fff"/>
<text x="611.8" y="509" font-size="10" fill="#2a2a2a" text-anchor="middle" font-family="Liberation Serif, serif">1</text>
<rect x="623.6" y="495.6" width="18.4" height="16" fill="#2b2b2b"/>
<polygon points="625.4,509.7 640.2,509.7 640.2,502.32 638.13,501.34 636.65,499.12 636.35,497.4 629.25,497.4 628.95,499.12 627.47,501.34 625.4,502.32" fill="#fff"/>
<text x="632.8" y="509" font-size="10" fill="#2a2a2a" text-anchor="middle" font-family="Liberation Serif, serif">2</text>
<rect x="644.4" y="495.6" width="18.6" height="16" fill="#2b2b2b"/>
<polygon points="646.2,509.7 661.2,509.7 661.2,502.32 659.1,501.34 657.6,499.12 657.3,497.4 650.1,497.4 649.8,499.12 648.3,501.34 646.2,502.32" fill="#fff"/>
<text x="653.7" y="509" font-size="10" fill="#2a2a2a" text-anchor="middle" font-family="Liberation Serif, serif">3</text>
<rect x="666.4" y="495.6" width="18.6" height="16" fill="#2b2b2b"/>
<polygon points="668.2,509.7 683.2,509.7 683.2,502.32 681.1,501.34 679.6,499.12 679.3,497.4 672.1,497.4 671.8,499.12 670.3,501.34 668.2,502.32" fill="#fff"/>
<text x="675.7" y="509" font-size="10" fill="#2a2a2a" text-anchor="middle" font-family="Liberation Serif, serif">4</text>
<circle cx="699" cy="503.6" r="3" fill="#2b2b2b"/>
<rect x="706.4" y="496.4" width="12" height="15.2" fill="#d8d8d8" stroke="#555" stroke-width="1"/>
<circle cx="712.4" cy="504" r="3.3" fill="#fff" stroke="#444" stroke-width="1"/>
<circle cx="712.4" cy="504" r="1.1" fill="#333"/>
<text x="430.15" y="557.15" font-size="11.03" fill="#161616" font-weight="normal" textLength="101.85" lengthAdjust="spacingAndGlyphs" stroke="#161616" stroke-width="0.45">Network wires(8pin)</text>
<text x="430.15" y="567.1" font-size="11.03" fill="#161616" font-weight="normal" textLength="110.25" lengthAdjust="spacingAndGlyphs" stroke="#161616" stroke-width="0.45">embedded in the wall</text>
<polyline points="544.4,570.6 487.9,570.6 487.9,601.7" fill="none" stroke="#454545" stroke-width="1.7" stroke-linejoin="round"/>
<rect x="544.4" y="560" width="16.6" height="22" rx="2.5" fill="#2b2b2b"/>
<rect x="546.8" y="562.4" width="11.8" height="17.2" rx="0.8" fill="#fff"/>
<polygon points="548.57,564.6 548.57,577.4 552.49,577.4 552.49,575.32 554.82,575.32 556.62,573.56 556.62,568.44 554.82,566.68 552.49,566.68 552.49,564.6" fill="#2b2b2b"/>
<rect x="565" y="560" width="20.6" height="21.6" fill="#2b2b2b"/>
<rect x="585" y="548" width="21.6" height="45.6" rx="1" fill="#2b2b2b"/>
<rect x="587.16" y="553.02" width="17.28" height="36.02" fill="none" stroke="#c8c8c8" stroke-width="1"/>
<rect x="593.21" y="557.58" width="8.42" height="12.31" fill="none" stroke="#c8c8c8" stroke-width="1"/>
<text x="0" y="0" font-size="9.72" fill="#f2f2f2" font-weight="bold" text-anchor="middle" transform="translate(594.94,563.73) rotate(90)" dy="0.35em" font-family="Liberation Serif, serif">2</text>
<rect x="593.21" y="571.71" width="8.42" height="12.31" fill="none" stroke="#c8c8c8" stroke-width="1"/>
<text x="0" y="0" font-size="9.72" fill="#f2f2f2" font-weight="bold" text-anchor="middle" transform="translate(594.94,577.87) rotate(90)" dy="0.35em" font-family="Liberation Serif, serif">1</text>
<rect x="611" y="548" width="18.6" height="45.6" rx="2.5" fill="#2b2b2b"/>
<rect x="613.6" y="553.47" width="13.76" height="15.5" fill="#fff"/>
<polygon points="615.95,556.22 615.95,566.23 620.49,566.23 620.49,564.6 623.19,564.6 625.27,563.22 625.27,559.22 623.19,557.85 620.49,557.85 620.49,556.22" fill="#2b2b2b"/>
<rect x="613.6" y="571.71" width="13.76" height="15.73" fill="#fff"/>
<polygon points="615.95,574.49 615.95,584.67 620.49,584.67 620.49,583.02 623.19,583.02 625.27,581.62 625.27,577.54 623.19,576.14 620.49,576.14 620.49,574.49" fill="#2b2b2b"/>
<polyline points="656,518.4 656,560.6 641,560.6" fill="none" stroke="#c94040" stroke-width="1.7" stroke-linejoin="round"/>
<polygon points="635.6,560.6 643.1,557.1 643.1,564.1" fill="#dd1a1a"/>
<polyline points="675.6,518.4 675.6,581 641,581" fill="none" stroke="#454545" stroke-width="1.7" stroke-linejoin="round"/>
<polygon points="635.6,581 643.1,577.5 643.1,584.5" fill="#454545"/>
<rect x="477.9" y="601.7" width="21.9" height="17.6" rx="2.5" fill="#2b2b2b"/>
<rect x="480.3" y="604.1" width="17.1" height="12.8" rx="0.8" fill="#fff"/>
<polygon points="482.49,605.98 495.21,605.98 495.21,610.27 493.14,610.27 493.14,612.82 491.39,614.79 486.31,614.79 484.56,612.82 484.56,610.27 482.49,610.27" fill="#2b2b2b"/>
<rect x="478.7" y="622.5" width="21.6" height="20.3" fill="#2b2b2b"/>
<rect x="466.5" y="642.8" width="45.9" height="21.2" rx="1" fill="#2b2b2b"/>
<rect x="470.95" y="644.62" width="37.09" height="17.47" fill="none" stroke="#c8c8c8" stroke-width="1"/>
<rect x="475.96" y="651.49" width="13.04" height="8.9" fill="none" stroke="#c8c8c8" stroke-width="1"/>
<text x="0" y="0" font-size="8.48" fill="#f0f0f0" font-weight="bold" text-anchor="middle" transform="translate(482.47,653.4) rotate(180)" dy="0.35em" font-family="Liberation Serif, serif">1</text>
<rect x="489.91" y="651.49" width="13.31" height="8.9" fill="none" stroke="#c8c8c8" stroke-width="1"/>
<text x="0" y="0" font-size="8.48" fill="#f0f0f0" font-weight="bold" text-anchor="middle" transform="translate(496.56,653.4) rotate(180)" dy="0.35em" font-family="Liberation Serif, serif">2</text>
<rect x="466.5" y="668.4" width="45.9" height="19.2" rx="2.5" fill="#2b2b2b"/>
<rect x="472.01" y="670.9" width="16.52" height="14.59" fill="#fff"/>
<polygon points="474.86,672.84 485.68,672.84 485.68,677.68 483.92,677.68 483.92,680.56 482.43,682.79 478.11,682.79 476.62,680.56 476.62,677.68 474.86,677.68" fill="#2b2b2b"/>
<rect x="490.37" y="670.9" width="16.52" height="14.59" fill="#fff"/>
<polygon points="493.22,672.84 504.04,672.84 504.04,677.68 502.28,677.68 502.28,680.56 500.79,682.79 496.47,682.79 494.98,680.56 494.98,677.68 493.22,677.68" fill="#2b2b2b"/>
<text x="547.6" y="656.4" font-size="13.64" fill="#161616" font-weight="normal" textLength="92.4" lengthAdjust="spacingAndGlyphs" stroke="#161616" stroke-width="0.45">POE Camera</text>
<text x="696.6" y="656.6" font-size="13.64" fill="#161616" font-weight="normal" textLength="92.2" lengthAdjust="spacingAndGlyphs" stroke="#161616" stroke-width="0.45">POE Camera</text>
<circle cx="594" cy="690.75" r="20" fill="#fff" stroke="#2b2b2b" stroke-width="2.6"/>
<rect x="593" y="708.55" width="2" height="4" fill="#fff"/>
<circle cx="594" cy="690.75" r="7.4" fill="#2b2b2b"/>
<circle cx="594" cy="690.75" r="9.9" fill="none" stroke="#2b2b2b" stroke-width="2" stroke-dasharray="12.6 2.95" transform="rotate(53.5 594 690.75)"/>
<line x1="581.76" y1="685.3" x2="579.02" y2="684.08" stroke="#2b2b2b" stroke-width="2.8" stroke-linecap="round"/>
<line x1="581.76" y1="696.2" x2="579.02" y2="697.42" stroke="#2b2b2b" stroke-width="2.8" stroke-linecap="round"/>
<line x1="606.24" y1="685.3" x2="608.98" y2="684.08" stroke="#2b2b2b" stroke-width="2.8" stroke-linecap="round"/>
<line x1="606.24" y1="696.2" x2="608.98" y2="697.42" stroke="#2b2b2b" stroke-width="2.8" stroke-linecap="round"/>
<line x1="591.7" y1="713.5" x2="591.7" y2="720.5" stroke="#2b2b2b" stroke-width="1.8"/>
<line x1="596.3" y1="713.5" x2="596.3" y2="720.5" stroke="#2b2b2b" stroke-width="1.8"/>
<path d="M574.4,738.1 A20.87,20.87 0 0 1 613.6,738.1 Z" fill="#fff" stroke="#2b2b2b" stroke-width="2.5" stroke-linejoin="miter"/>
<rect x="593.2" y="736" width="1.6" height="4" fill="#fff"/>
<circle cx="586.5" cy="732.57" r="2.7" fill="#2b2b2b"/>
<circle cx="601" cy="732.57" r="2.7" fill="#2b2b2b"/>
<circle cx="751.6" cy="685.2" r="19.7" fill="#fff" stroke="#2b2b2b" stroke-width="2.6"/>
<rect x="750.6" y="702.7" width="2" height="4" fill="#fff"/>
<circle cx="751.6" cy="685.2" r="7.4" fill="#2b2b2b"/>
<circle cx="751.6" cy="685.2" r="9.9" fill="none" stroke="#2b2b2b" stroke-width="2" stroke-dasharray="12.6 2.95" transform="rotate(53.5 751.6 685.2)"/>
<line x1="739.36" y1="679.75" x2="736.62" y2="678.53" stroke="#2b2b2b" stroke-width="2.8" stroke-linecap="round"/>
<line x1="739.36" y1="690.65" x2="736.62" y2="691.87" stroke="#2b2b2b" stroke-width="2.8" stroke-linecap="round"/>
<line x1="763.84" y1="679.75" x2="766.58" y2="678.53" stroke="#2b2b2b" stroke-width="2.8" stroke-linecap="round"/>
<line x1="763.84" y1="690.65" x2="766.58" y2="691.87" stroke="#2b2b2b" stroke-width="2.8" stroke-linecap="round"/>
<line x1="749.3" y1="709" x2="749.3" y2="715.4" stroke="#2b2b2b" stroke-width="1.8"/>
<line x1="753.9" y1="709" x2="753.9" y2="715.4" stroke="#2b2b2b" stroke-width="1.8"/>
<path d="M731.65,733.1 A20.92,20.92 0 0 1 771.2,733.1 Z" fill="#fff" stroke="#2b2b2b" stroke-width="2.5" stroke-linejoin="miter"/>
<rect x="750.8" y="731" width="1.6" height="4" fill="#fff"/>
<circle cx="744.1" cy="727.4" r="2.7" fill="#2b2b2b"/>
<circle cx="758.6" cy="727.4" r="2.7" fill="#2b2b2b"/>
<polyline points="480.4,692 480.4,785 752,785 752,747" fill="none" stroke="#454545" stroke-width="1.7" stroke-linejoin="round"/>
<polygon points="752,741.6 748.5,749.1 755.5,749.1" fill="#454545"/>
<polyline points="498.4,692 498.4,764.5 594.4,764.5 594.4,748" fill="none" stroke="#c94040" stroke-width="1.7" stroke-linejoin="round"/>
<polygon points="594.4,742 590.9,749.5 597.9,749.5" fill="#dd1a1a"/>
</svg>
</body></html>
